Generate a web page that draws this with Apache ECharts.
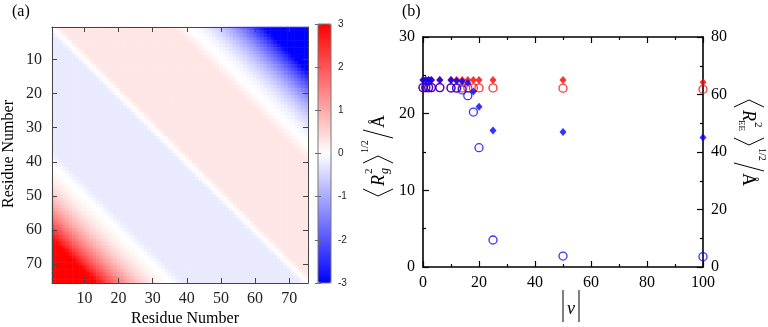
<!DOCTYPE html>
<html>
<head>
<meta charset="utf-8">
<script src="https://cdn.jsdelivr.net/npm/echarts@6/dist/echarts.min.js"></script>
<style>
html, body { margin: 0; padding: 0; background: #fff; }
#chart { width: 768px; height: 327px; }
</style>
</head>
<body>
<div id="chart"></div>
<script>
// (a) the map is constant along its diagonals; values read along the top row
// (residue 1 vs residues 1..75) and down the left column (residues 1..75 vs residue 1)
var topRow = [
  0, .12, .27,
  .3, .3, .3, .3, .3, .3, .3, .3, .3, .3, .3, .3, .3, .3, .3, .3, .3,
  .3, .3, .3, .3, .3, .3, .3, .3, .3, .3, .3, .3, .3, .3, .3, .3,
  .25, .2, .13, .06, 0,
  -.02, -.06, -.11, -.17, -.24, -.32, -.41, -.51, -.62, -.74, -.87,
  -1.01, -1.16, -1.32, -1.49, -1.67, -1.86, -2.06, -2.27, -2.5, -2.74, -2.95,
  -3, -3, -3, -3, -3, -3, -3, -3, -3, -3, -3, -3
];
var leftColumn = [
  0, -.1, -.22,
  -.25, -.25, -.25, -.25, -.25, -.25, -.25, -.25, -.25, -.25, -.25, -.25, -.25, -.25, -.25, -.25, -.25,
  -.25, -.25, -.25, -.25, -.25, -.25, -.25, -.25, -.25, -.25, -.25, -.25, -.25, -.25, -.25, -.25, -.25,
  -.2, -.13, -.06, 0,
  .02, .06, .11, .17, .24, .32, .41, .51, .62, .74, .87,
  1.01, 1.16, 1.32, 1.49, 1.67, 1.86, 2.06, 2.27, 2.5, 2.74, 2.95,
  3, 3, 3, 3, 3, 3, 3, 3, 3, 3, 3, 3
];
var colorMin = -3, colorMax = 3;

// (b) radius of gyration (left axis) and end-to-end distance (right axis) vs |nu|
var nu      = [0, 1, 2, 3, 6, 10, 12, 14, 16, 18, 20, 25, 50, 100];
var rgRed   = [24.4, 24.4, 24.4, 24.4, 24.4, 24.4, 24.4, 24.4, 24.4, 24.4, 24.4, 24.4, 24.4, 24.1];
var reeRed  = [62.4, 62.4, 62.4, 62.4, 62.4, 62.3, 62.3, 62.3, 62.3, 62.3, 62.3, 62.3, 62.2, 61.8];
var rgBlue  = [24.4, 24.4, 24.4, 24.4, 24.4, 24.4, 24.3, 24.2, 24.0, 22.9, 20.9, 17.8, 17.6, 16.9];
var reeBlue = [62.4, 62.4, 62.4, 62.4, 62.4, 62.3, 62.2, 61.6, 59.6, 53.9, 41.5, 9.4, 3.8, 3.6];

var serif = 'Liberation Serif';
var residues = [];
for (var i = 1; i <= 75; i++) residues.push(String(i));
var mapData = [];
for (var y = 0; y < 75; y++) {
  for (var x = 0; x < 75; x++) {
    mapData.push([x, y, x >= y ? topRow[x - y] : leftColumn[y - x]]);
  }
}
function pts(ys) {
  return nu.map(function (v, i) { return [v, ys[i]]; });
}
function everyTen(idx) { return (idx + 1) % 10 === 0; }

function resAxis(pos, showLabel) {
  var vertical = pos === 'left' || pos === 'right';
  return {
    type: 'category', gridIndex: 0, data: residues, position: pos, inverse: vertical, z: 5,
    axisLine: { show: true, lineStyle: { color: '#444', width: 1 } },
    axisTick: { show: true, inside: true, length: 5, alignWithLabel: true, interval: everyTen, lineStyle: { color: '#444' } },
    axisLabel: { show: showLabel, interval: everyTen, fontFamily: serif, fontSize: 16, color: '#222', margin: vertical ? 10 : 8 },
    splitLine: { show: false }
  };
}
function valAxis(grid, pos, min, max, step, showLabel) {
  return {
    type: 'value', gridIndex: grid, position: pos, min: min, max: max, interval: step,
    axisLine: { show: true, onZero: false, lineStyle: { color: '#000', width: 1.6 } },
    axisTick: { show: true, inside: true, length: 6, lineStyle: { color: '#000', width: 1.2 } },
    minorTick: { show: true, splitNumber: 2, length: 3, lineStyle: { color: '#000', width: 1.2 } },
    axisLabel: { show: showLabel, fontFamily: serif, fontSize: 16, color: '#000', margin: 8 },
    splitLine: { show: false }
  };
}
function barAxis(pos, showLabel) {
  return {
    type: 'value', gridIndex: 1, position: pos, min: colorMin, max: colorMax, interval: 1, z: 10,
    axisLine: { show: false },
    axisTick: { show: true, inside: true, length: 3, lineStyle: { color: '#666', type: 'dashed' } },
    axisLabel: { show: showLabel, fontFamily: 'Liberation Sans', fontSize: 10, color: '#222', margin: 7 },
    splitLine: { show: false }
  };
}

function bracket(x0, dir) {
  return { type: 'polyline', shape: { points: [[x0 + 7 * dir, -15], [x0, 0], [x0 + 7 * dir, 15]] },
    style: { stroke: '#000', lineWidth: 1, fill: null } };
}
function txt(x, y, s, size, italic) {
  return { type: 'text', x: x, y: y, style: { text: s, fill: '#000', textAlign: 'left', textVerticalAlign: 'middle',
    font: (italic ? 'italic ' : '') + size + 'px ' + serif } };
}
function radiusTitle(cx, cy, rot, sub, wide) {
  var w = wide ? 5 : 0;
  var kids = [
    bracket(-46, 1),
    txt(-36, 1, 'R', 18, true),
    txt(-24, -9, '2', 11, false),
    wide ? txt(-26, 8, sub, 9, false) : txt(-24, 7, sub, 12, true),
    bracket(-6 + w, -1),
    txt(-3 + w, -13, '1/2', 10, false),
    { type: 'polyline', shape: { points: [[12 + w, 15], [20 + w, -15]] }, style: { stroke: '#000', lineWidth: 1 } },
    txt(22 + w, 1, 'Å', 18, false)
  ];
  return { type: 'group', x: cx, y: cy, rotation: rot, children: kids };
}

var chart = echarts.init(document.getElementById('chart'));
chart.setOption({
  animation: false,
  grid: [
    { left: 52, top: 27, width: 256, height: 256 },
    { left: 318, top: 24, width: 13, height: 259 },
    { left: 423, top: 37, width: 280, height: 230 }
  ],
  xAxis: [
    resAxis('bottom', true),
    resAxis('top', false),
    { type: 'value', gridIndex: 1, show: false, min: 0, max: 1 },
    valAxis(2, 'bottom', 0, 100, 20, true),
    valAxis(2, 'top', 0, 100, 20, false)
  ],
  yAxis: [
    resAxis('left', true),
    resAxis('right', false),
    barAxis('right', true),
    barAxis('left', false),
    valAxis(2, 'left', 0, 30, 10, true),
    valAxis(2, 'right', 0, 80, 20, true)
  ],
  visualMap: {
    type: 'continuous', seriesIndex: 0, min: colorMin, max: colorMax,
    left: 318, top: 24, itemWidth: 13, itemHeight: 259, padding: 0,
    calculable: false, hoverLink: false,
    inRange: { color: ['#0000ff', '#ffffff', '#ff0000'] }
  },
  graphic: [
    { type: 'rect', shape: { x: 318, y: 24, width: 13, height: 259 }, style: { fill: null, stroke: '#777', lineWidth: 1 }, z: 100 },
    txt(12, 12, '(a)', 16, false),
    txt(402, 12, '(b)', 16, false),
    { type: 'text', x: 185, y: 319, style: { text: 'Residue Number', font: '16px ' + serif, fill: '#000', textAlign: 'center', textVerticalAlign: 'middle' } },
    { type: 'text', x: 9, y: 154, rotation: Math.PI / 2, style: { text: 'Residue Number', font: '16px ' + serif, fill: '#000', textAlign: 'center', textVerticalAlign: 'middle' } },
    { type: 'line', shape: { x1: 563, y1: 290, x2: 563, y2: 322 }, style: { stroke: '#000', lineWidth: 1 } },
    { type: 'line', shape: { x1: 579, y1: 290, x2: 579, y2: 322 }, style: { stroke: '#000', lineWidth: 1 } },
    { type: 'text', x: 571, y: 309, style: { text: 'ν', font: 'italic 18px ' + serif, fill: '#000', textAlign: 'center', textVerticalAlign: 'middle' } },
    radiusTitle(378, 150, Math.PI / 2, 'g', false),
    radiusTitle(749, 146, -Math.PI / 2, 'EE', true)
  ],
  series: [
    { type: 'heatmap', xAxisIndex: 0, yAxisIndex: 0, data: mapData, progressive: 0 },
    { type: 'scatter', xAxisIndex: 3, yAxisIndex: 5, data: pts(reeRed), symbol: 'circle', symbolSize: 8, clip: false,
      itemStyle: { color: 'rgba(0,0,0,0)', borderColor: '#ff0000', borderWidth: 1.3 } },
    { type: 'scatter', xAxisIndex: 3, yAxisIndex: 4, data: pts(rgRed), symbol: 'diamond', symbolSize: [7, 8], clip: false,
      itemStyle: { color: '#ff0000' } },
    { type: 'scatter', xAxisIndex: 3, yAxisIndex: 5, data: pts(reeBlue), symbol: 'circle', symbolSize: 8, clip: false,
      itemStyle: { color: 'rgba(0,0,0,0)', borderColor: '#0000ff', borderWidth: 1.3 } },
    { type: 'scatter', xAxisIndex: 3, yAxisIndex: 4, data: pts(rgBlue), symbol: 'diamond', symbolSize: [7, 8], clip: false,
      itemStyle: { color: '#0000ff' } }
  ]
});
</script>
</body>
</html>
